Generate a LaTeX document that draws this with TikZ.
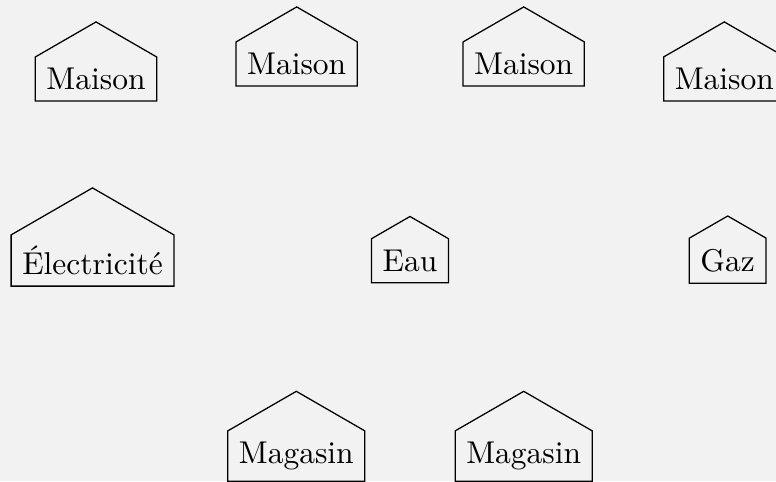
\documentclass[tikz,border=0pt]{standalone}
\usetikzlibrary{calc}
\definecolor{bgcol}{HTML}{F2F2F2}
\tikzset{
  housebox/.style={inner sep=0.3333em, font=\normalsize},
  houseline/.style={draw=black, line width=0.4pt, line join=miter},
}
\newcommand{\houseof}[1]{%
  \draw[houseline] let \p1=(#1.north west), \p2=(#1.north east),
    \p3=(#1.south west), \p4=(#1.south east) in
    (\p3) -- (\p1) -- ({(\x1+\x2)/2},{\y1+(\x2-\x1)/2*0.57735}) -- (\p2) -- (\p4) -- cycle;}
\begin{document}
\begin{tikzpicture}[x=0.3175pt, y=-0.3175pt]
\fill[bgcol] (0,0) rectangle (776,481);
\useasboundingbox (0,0) rectangle (776,481);
\node[housebox] (m1) at (96,79) {Maison};
\node[housebox] (m2) at (296.7,64) {Maison};
\node[housebox] (m3) at (523.7,64) {Maison};
\node[housebox] (m4) at (724.3,79) {Maison};
\node[housebox] (elec) at (92.5,260.5) {\'Electricit\'e};
\node[housebox] (eau) at (410,260.7) {Eau};
\node[housebox] (gaz) at (727.7,260.7) {Gaz};
\node[housebox] (g1) at (296.3,456) {Magasin};
\node[housebox] (g2) at (523.7,456) {Magasin};
\houseof{m1}\houseof{m2}\houseof{m3}\houseof{m4}
\houseof{elec}\houseof{eau}\houseof{gaz}
\houseof{g1}\houseof{g2}
\end{tikzpicture}
\end{document}
